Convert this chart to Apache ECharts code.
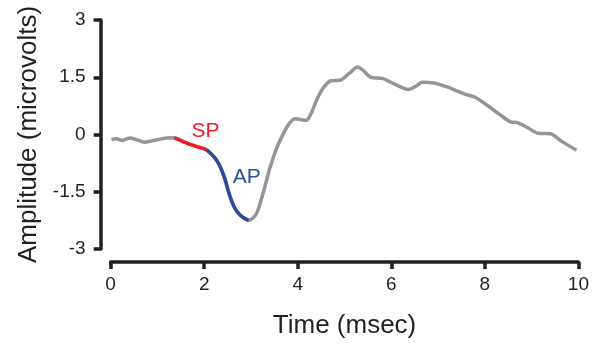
<!DOCTYPE html>
<html>
<head>
<meta charset="utf-8">
<script src="https://cdn.jsdelivr.net/npm/echarts@6/dist/echarts.min.js"></script>
<style>
html,body{margin:0;padding:0;background:#fff;}
#chart{width:592px;height:344px;}
</style>
</head>
<body>
<div id="chart"></div>
<script>
// Full recorded trace (msec, microvolts)
const traceTime = [0.02,0.13,0.24,0.41,0.55,0.73,0.95,1.2,1.36,1.58,1.8,2.05,2.22,2.33,2.44,2.54,2.65,2.76,2.85,2.95,3.11,3.25,3.40,3.54,3.68,3.82,3.95,4.07,4.18,4.28,4.43,4.57,4.71,4.9,5.1,5.28,5.38,5.56,5.81,5.99,6.17,6.36,6.52,6.66,6.91,7.16,7.41,7.59,7.8,8.01,8.3,8.55,8.69,8.9,9.15,9.4,9.64,9.96];
const traceAmp  = [-0.13,-0.11,-0.16,-0.09,-0.135,-0.2,-0.15,-0.09,-0.085,-0.2,-0.3,-0.4,-0.6,-0.81,-1.15,-1.58,-1.92,-2.1,-2.19,-2.25,-2.09,-1.58,-0.9,-0.39,-0.01,0.29,0.41,0.39,0.37,0.54,0.97,1.26,1.41,1.42,1.6,1.77,1.70,1.5,1.47,1.37,1.26,1.18,1.26,1.37,1.35,1.26,1.14,1.05,0.97,0.8,0.54,0.33,0.31,0.19,0.03,0.02,-0.18,-0.41];
// SP segment
const spTime = [1.36,1.58,1.8,2.05];
const spAmp  = [-0.085,-0.2,-0.3,-0.4];
// AP segment
const apTime = [2.05,2.22,2.33,2.44,2.54,2.65,2.76,2.85,2.95];
const apAmp  = [-0.4,-0.6,-0.81,-1.15,-1.58,-1.92,-2.1,-2.19,-2.25];
// Axis ticks
const xTicks = [0,2,4,6,8,10];
const yTicks = [-3,-1.5,0,1.5,3];

const zip = (a,b)=>a.map((v,i)=>[v,b[i]]);
const FONT = "'Liberation Sans', Arial, Helvetica, sans-serif";
const AX = '#231f20';

const chart = echarts.init(document.getElementById('chart'), null, {renderer:'canvas'});
chart.setOption({
  animation:false,
  backgroundColor:'#ffffff',
  grid:{left:110.6,right:12,top:20,bottom:89,containLabel:false},
  xAxis:{
    type:'value', min:xTicks[0], max:xTicks[xTicks.length-1], interval:2,
    offset:13,
    name:'Time (msec)', nameLocation:'middle', nameGap:51,
    nameTextStyle:{fontFamily:FONT,fontSize:26,color:AX},
    axisLine:{show:true,onZero:false,lineStyle:{color:AX,width:3.5}},
    axisTick:{show:true,inside:false,length:7,lineStyle:{color:AX,width:3.5}},
    axisLabel:{fontFamily:FONT,fontSize:19,color:AX,margin:13},
    splitLine:{show:false}
  },
  yAxis:{
    type:'value', min:-3, max:3, interval:1.5,
    offset:10,
    name:'Amplitude (microvolts)', nameLocation:'middle', nameGap:55,
    nameTextStyle:{fontFamily:FONT,fontSize:26,color:AX},
    axisLine:{show:true,onZero:false,lineStyle:{color:AX,width:3.5}},
    axisTick:{show:true,inside:false,length:7,lineStyle:{color:AX,width:3.5}},
    axisLabel:{fontFamily:FONT,fontSize:19,color:AX,margin:15,
      formatter:v=>String(v)},
    splitLine:{show:false}
  },
  series:[
    {type:'line',data:zip(traceTime,traceAmp),smooth:0.3,showSymbol:false,
     lineStyle:{color:'#939598',width:3.5},z:2},
    {type:'line',data:zip(spTime,spAmp),smooth:0.3,showSymbol:false,
     lineStyle:{color:'#ed1c24',width:3.5},z:3,
     markPoint:{symbol:'circle',symbolSize:1,itemStyle:{color:'rgba(0,0,0,0)'},
       label:{show:true,position:'inside',formatter:'SP',fontFamily:FONT,fontSize:21,color:'#ed1c24'},
       data:[{coord:[2.03,0.08]}]}},
    {type:'line',data:zip(apTime,apAmp),smooth:0.3,showSymbol:false,
     lineStyle:{color:'#2e4a9e',width:3.5},z:3,
     markPoint:{symbol:'circle',symbolSize:1,itemStyle:{color:'rgba(0,0,0,0)'},
       label:{show:true,position:'inside',formatter:'AP',fontFamily:FONT,fontSize:21,color:'#2e4a9e'},
       data:[{coord:[2.91,-1.13]}]}}
  ]
});
</script>
</body>
</html>
